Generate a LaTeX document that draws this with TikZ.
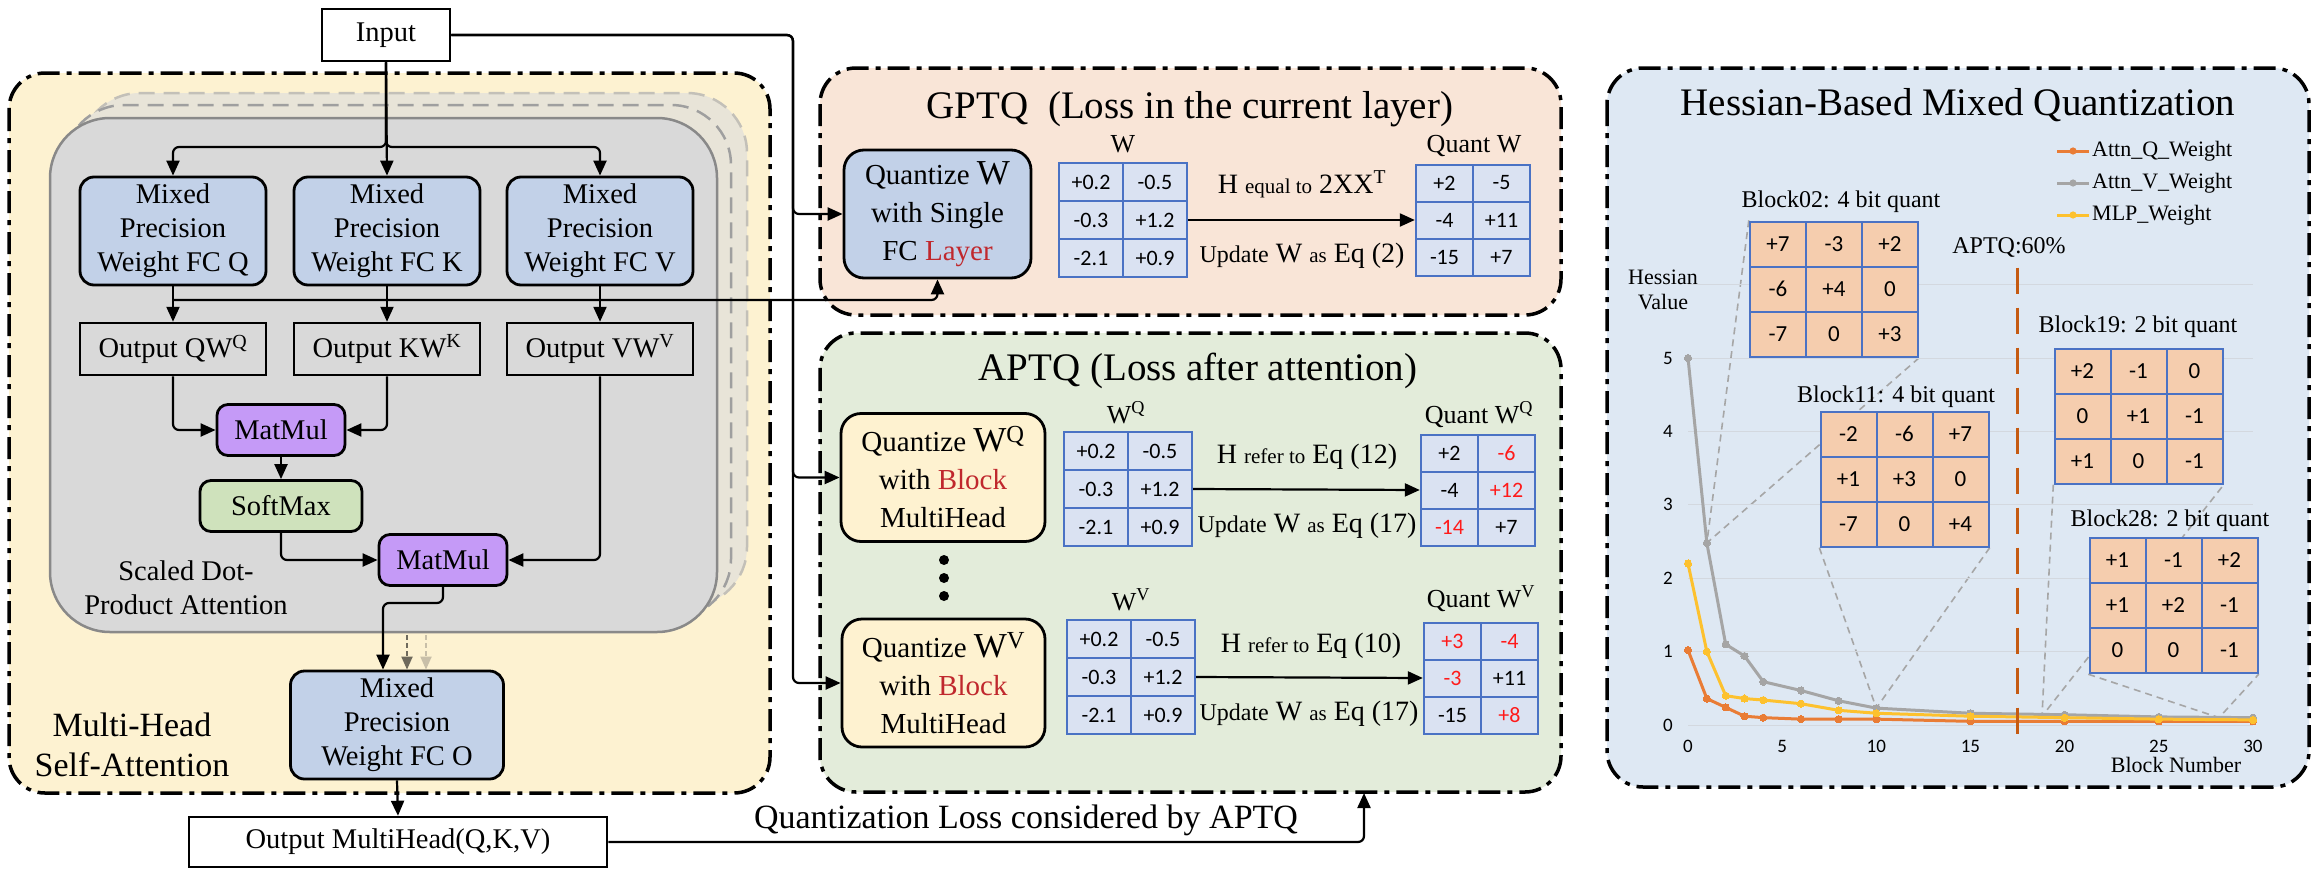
\documentclass[tikz,border=0pt]{standalone}
\usepackage{fontspec}
\setmainfont{Liberation Serif}
\newfontfamily\numfont{Carlito}
\usepackage{tikz}
\usetikzlibrary{arrows.meta,calc,matrix,positioning}
\definecolor{panelyellow}{HTML}{FDF2D1}
\definecolor{panelpeach}{HTML}{F9E5D7}
\definecolor{panelgreen}{HTML}{E3ECDA}
\definecolor{panelblue}{HTML}{DEE8F3}
\definecolor{headgray}{HTML}{D9D9D9}
\definecolor{headedge}{HTML}{898989}
\definecolor{stackfill}{HTML}{E8E4D8}
\definecolor{stackmid}{HTML}{9F9F9F}
\definecolor{stackback}{HTML}{C3C0B8}
\definecolor{fcblue}{HTML}{C2D1E8}
\definecolor{boxyellow}{HTML}{FEF2D0}
\definecolor{mmpurple}{HTML}{C59AF7}
\definecolor{smgreen}{HTML}{CFE2BC}
\definecolor{cellblue}{HTML}{4A72C4}
\definecolor{cellfill}{HTML}{DAE2F2}
\definecolor{cellpeach}{HTML}{F5CDAE}
\definecolor{darkred}{HTML}{C0282D}
\definecolor{numred}{HTML}{FF1A1A}
\definecolor{qorange}{HTML}{E97C35}
\definecolor{vgray}{HTML}{A5A5A5}
\definecolor{mlpyellow}{HTML}{FDC12E}
\definecolor{aptqcut}{HTML}{C55A11}
\definecolor{zoomgray}{HTML}{A6A6A6}
\definecolor{gridgray}{HTML}{D3D8DF}
\definecolor{ghostdark}{HTML}{6F6A5C}
\definecolor{ghostlight}{HTML}{C8BFA8}
\newcommand{\boxtext}{\fontsize{28.5}{34}\selectfont}
\newcommand{\qtext}{\fontsize{29}{38}\selectfont}
\newcommand{\bigw}{\fontsize{35}{38}\selectfont}
\newcommand{\titletext}{\fontsize{39}{44}\selectfont}
\newcommand{\headtext}{\fontsize{34}{40}\selectfont}
\newcommand{\labeltext}{\fontsize{26}{28}\selectfont}
\newcommand{\eqbig}{\fontsize{28}{30}\selectfont}
\newcommand{\eqmid}{\fontsize{24}{26}\selectfont}
\newcommand{\eqsmall}{\fontsize{21}{24}\selectfont}
\newcommand{\celltext}{\numfont\fontsize{22}{24}\selectfont}
\newcommand{\blockcelltext}{\numfont\fontsize{23}{26}\selectfont}
\newcommand{\charttext}{\fontsize{22}{25}\selectfont}
\newcommand{\blocktext}{\fontsize{24}{26}\selectfont}
\newcommand{\ticktext}{\numfont\fontsize{19}{22}\selectfont}
\pgfdeclarelayer{panels}
\pgfdeclarelayer{zoomlines}
\pgfsetlayers{panels,zoomlines,main}
\tikzset{
  panel/.style={draw=black, line width=3.5pt,
    dash pattern=on 22pt off 7pt on 5pt off 7pt, rounded corners=36pt},
  headlayer/.style={line width=2.5pt, rounded corners=60pt, fill=stackfill,
    dash pattern=on 16pt off 9pt},
  plainbox/.style={draw, line width=2.5pt, minimum height=52pt, inner sep=2pt, font=\boxtext},
  fcbox/.style={draw, line width=2.8pt, rounded corners=14pt, fill=fcblue,
    minimum width=186pt, minimum height=108pt, align=center, inner sep=2pt, font=\boxtext},
  opbox/.style={draw, line width=2.8pt, rounded corners=11pt, minimum width=128pt,
    minimum height=51pt, inner sep=2pt, font=\boxtext},
  qbox/.style={draw, line width=2.8pt, rounded corners=20pt, minimum height=128pt,
    align=center, inner sep=2pt, font=\qtext},
  conn/.style={line width=2.2pt, rounded corners=6pt},
  arr/.style={conn, -{Triangle[length=15pt,width=13pt]}},
  ghostarr/.style={line width=2pt, draw=#1, dash pattern=on 5pt off 3pt,
    -{Triangle[length=13pt,width=11pt]}},
  lbl/.style={font=\labeltext, inner sep=0pt},
  weight matrix/.style={
    matrix of nodes, inner sep=0pt,
    column sep=-2pt, row sep=-2pt,
    nodes={draw=cellblue, line width=2pt,
      fill=cellfill,
      minimum height=38pt,
      anchor=center,
      text width=#1,
      align=center,
      inner sep=0pt,
      font=\celltext
    },
  },
  weight matrix/.default=64pt,
  block matrix/.style={
    matrix of nodes, inner sep=0pt,
    column sep=-2pt, row sep=-2pt,
    nodes={draw=cellblue, line width=2pt,
      fill=cellpeach,
      minimum height=45pt,
      anchor=center,
      text width=56pt,
      align=center,
      inner sep=0pt,
      font=\blockcelltext
    },
  },
  gridline/.style={draw=gridgray, line width=1pt},
  ticklbl/.style={font=\ticktext, inner sep=1pt},
  hcurve/.style={draw=#1, line width=3pt, mark=*, mark size=3.6pt,
    mark options={draw=#1, fill=#1, line width=0pt}},
  cutline/.style={draw=aptqcut, line width=3pt, dash pattern=on 26pt off 14pt},
  zoomline/.style={draw=zoomgray, line width=1.6pt, dash pattern=on 7pt off 5pt}
}
\begin{document}
\begin{tikzpicture}[x=1pt,y=-1pt]
\useasboundingbox (0,0) rectangle (2320,878);

\begin{pgfonlayer}{panels}
  \fill[white] (0,0) rectangle (2320,878);
  \draw[panel, fill=panelyellow] (9,73) rectangle (770,793);
  \draw[panel, fill=panelpeach] (820,68) rectangle (1561,315);
  \draw[panel, fill=panelgreen] (820,333) rectangle (1561,792);
  \draw[panel, fill=panelblue] (1607,68) rectangle (2309,787);
  \draw[headlayer, draw=stackback] (80,93) rectangle (747,607);
  \draw[headlayer, draw=stackmid] (64,105) rectangle (731,619);
  \draw[headlayer, solid, draw=headedge, fill=headgray] (50,118) rectangle (717,632);
\end{pgfonlayer}

% multi-head self-attention
\node[plainbox, minimum width=128pt] (inp) at (386,35) {Input};
\node[fcbox] (fcq) at (173,231) {Mixed\\Precision\\Weight FC Q};
\node[fcbox] (fck) at (387,231) {Mixed\\Precision\\Weight FC K};
\node[fcbox] (fcv) at (600,231) {Mixed\\Precision\\Weight FC V};
\node[plainbox, minimum width=186pt] (outq) at (173,349) {Output QW\textsuperscript{Q}};
\node[plainbox, minimum width=186pt] (outk) at (387,349) {Output KW\textsuperscript{K}};
\node[plainbox, minimum width=186pt] (outv) at (600,349) {Output VW\textsuperscript{V}};
\node[opbox, fill=mmpurple] (mm1) at (281,430) {MatMul};
\node[opbox, fill=smgreen, minimum width=162pt] (sm) at (281,506) {SoftMax};
\node[opbox, fill=mmpurple] (mm2) at (443,560) {MatMul};
\node[align=center, font=\boxtext] (sdpa) at (186,588) {Scaled Dot-\\Product Attention};
\node[fcbox, minimum width=213pt] (fco) at (397,725) {Mixed\\Precision\\Weight FC O};
\node[align=center, font=\headtext] (mhsa) at (132,745) {Multi-Head\\Self-Attention};
\node[plainbox, minimum width=418pt, minimum height=50pt] (outmh) at (398,842) {Output MultiHead(Q,K,V)};

\coordinate (split) at (386,147);
\draw[arr] (inp.south) -- (split) -| (fcq.north);
\draw[arr] (inp.south) -- (fck.north);
\draw[arr] (inp.south) -- (split) -| (fcv.north);
\foreach \h in {q,k,v}
  \draw[arr] (fc\h.south) -- (out\h.north);
\draw[arr] (outq.south) |- (mm1.west);
\draw[arr] (outk.south) |- (mm1.east);
\draw[arr] (mm1.south) -- (sm.north);
\draw[arr] (sm.south) |- (mm2.west);
\draw[arr] (outv.south) |- (mm2.east);
\coordinate (mmturn) at (383,603);
\draw[arr] (mm2.south) |- (mmturn) -- (mmturn |- fco.north);
\coordinate (ghost1) at (407,635);
\coordinate (ghost2) at (426,635);
\draw[ghostarr=ghostdark] (ghost1) -- (ghost1 |- fco.north);
\draw[ghostarr=ghostlight] (ghost2) -- (ghost2 |- fco.north);
\draw[arr] (fco.south) -- (outmh.north);

% GPTQ
\node[anchor=base, font=\titletext] (gtitle) at (1190,118) {GPTQ\ \ (Loss in the current layer)};
\node[qbox, fill=fcblue, minimum width=187pt] (gq) at (937.5,214)
  {Quantize {\bigw W}\\with Single\\FC \textcolor{darkred}{Layer}};
\matrix[weight matrix] (gw) at (1123,220) {
  +0.2 & -0.5 \\
  -0.3 & +1.2 \\
  -2.1 & +0.9 \\
};
\matrix[weight matrix=57pt, nodes={minimum height=37pt}] (gqw) at (1473,220) {
  +2 & -5 \\
  -4 & +11 \\
  -15 & +7 \\
};
\node[lbl, anchor=base] (gwl) at (1123,152) {W};
\node[lbl, anchor=base] (gqwl) at (1474,152) {Quant W};
\draw[arr] (gw.east) -- (gqw.west);
\node[anchor=base, font=\eqbig] (gh) at (1302,193) {H {\eqsmall equal to} 2XX\textsuperscript{T}};
\node[anchor=base, font=\eqbig] (gu) at (1302,262) {{\eqmid Update} W {\eqsmall as} Eq (2)};

% APTQ
\node[anchor=base, font=\titletext] (atitle) at (1198,380) {APTQ (Loss after attention)};
\node[qbox, fill=boxyellow, minimum width=204pt] (aq) at (943,477.5)
  {Quantize {\bigw W\textsuperscript{Q}}\\with \textcolor{darkred}{Block}\\MultiHead};
\matrix[weight matrix] (aw) at (1128,489) {
  +0.2 & -0.5 \\
  -0.3 & +1.2 \\
  -2.1 & +0.9 \\
};
\matrix[weight matrix=57pt, nodes={minimum height=37pt}] (aqw) at (1478,490) {
  +2 &|[text=numred]| -6 \\
  -4 &|[text=numred]| +12 \\
  |[text=numred]| -14 & +7 \\
};
\node[lbl, anchor=base] (awl) at (1126,423) {W\textsuperscript{Q}};
\node[lbl, anchor=base] (aqwl) at (1479,423) {Quant W\textsuperscript{Q}};
\draw[arr] (aw.east) -- (aqw.west);
\node[anchor=base, font=\eqbig] (ah) at (1307,463) {H {\eqsmall refer to} Eq (12)};
\node[anchor=base, font=\eqbig] (au) at (1307,532) {{\eqmid Update} W {\eqsmall as} Eq (17)};
\foreach \d in {560,578,596}
  \fill (944,\d) circle (5pt);
\node[qbox, fill=boxyellow, minimum width=203pt] (av) at (943.5,683)
  {Quantize {\bigw W\textsuperscript{V}}\\with \textcolor{darkred}{Block}\\MultiHead};
\matrix[weight matrix] (vw) at (1131,677) {
  +0.2 & -0.5 \\
  -0.3 & +1.2 \\
  -2.1 & +0.9 \\
};
\matrix[weight matrix=57pt, nodes={minimum height=37pt}] (vqw) at (1481,678) {
  |[text=numred]| +3 &|[text=numred]| -4 \\
  |[text=numred]| -3 & +11 \\
  -15 &|[text=numred]| +8 \\
};
\node[lbl, anchor=base] (vwl) at (1131,610) {W\textsuperscript{V}};
\node[lbl, anchor=base] (vqwl) at (1481,607) {Quant W\textsuperscript{V}};
\draw[arr] (vw.east) -- (vqw.west);
\node[anchor=base, font=\eqbig] (vh) at (1311,652) {H {\eqsmall refer to} Eq (10)};
\node[anchor=base, font=\eqbig] (vu) at (1309,720) {{\eqmid Update} W {\eqsmall as} Eq (17)};

\coordinate (bus) at (793,35);
\foreach \q in {gq,aq,av}
  \draw[arr] (inp.east) -- (bus) |- (\q.west);
\coordinate (tap) at (173,300);
\draw[arr] (tap) -| (gq.south);
\coordinate (lossin) at (1364,793);
\draw[arr] (outmh.east) -| (lossin);
\node[anchor=base, font=\headtext] (losstxt) at (1026,828) {Quantization Loss considered by APTQ};

% hessian chart
\node[anchor=base, font=\titletext] (htitle) at (1958,115) {Hessian-Based Mixed Quantization};
\foreach \c/\t/\yy [count=\i] in {qorange/Attn\_Q\_Weight/151, vgray/Attn\_V\_Weight/183, mlpyellow/MLP\_Weight/215} {
  \draw[draw=\c, line width=3pt] (2057,\yy) -- (2089,\yy);
  \fill[\c] (2073,\yy) circle (3.6pt);
  \node[anchor=west, font=\charttext, inner sep=0pt] (lg\i) at (2092,\yy) {\t};
}
\begin{scope}[shift={(1688,725)}, x=18.83pt, y=73.4pt]
  \foreach \v in {0,...,6}
    \draw[gridline] (0,\v) -- (30,\v);
  \foreach \v in {0,...,5}
    \node[ticklbl, anchor=east] (yt\v) at (-0.75,\v) {\v};
  \foreach \b in {0,5,...,30}
    \node[ticklbl, anchor=base] (xt\b) at (\b,-0.37) {\b};
  \draw[hcurve=qorange] plot coordinates {(0,1.02) (1,0.36) (2,0.24) (3,0.12) (4,0.10) (6,0.08)
    (8,0.08) (10,0.08) (15,0.05) (20,0.05) (25,0.05) (30,0.05)};
  \draw[hcurve=vgray] plot coordinates {(0,5.0) (1,2.48) (2,1.10) (3,0.94) (4,0.59) (6,0.47)
    (8,0.33) (10,0.23) (15,0.16) (20,0.14) (25,0.11) (30,0.10)};
  \draw[hcurve=mlpyellow] plot coordinates {(0,2.2) (1,1.0) (2,0.40) (3,0.36) (4,0.34) (6,0.29)
    (8,0.20) (10,0.16) (15,0.12) (20,0.10) (25,0.08) (30,0.07)};
  \draw[cutline] (17.5,6.23) -- (17.5,-0.18);
  \coordinate (p02) at (1,2.48);
  \coordinate (p11) at (10,0.23);
  \coordinate (p19) at (18.8,0.12);
  \coordinate (p28) at (28.2,0.10);
\end{scope}
\node[align=center, font=\charttext] (hval) at (1663,290) {Hessian\\Value};
\node[anchor=base, font=\charttext] (bnum) at (2176,772) {Block Number};
\node[anchor=base, font=\blocktext] (cut) at (2009,253) {APTQ:60\%};

\node[anchor=base, font=\blocktext] (b02l) at (1841,207) {Block02: 4 bit quant};
\matrix[block matrix] (b02) at (1834,289) {
  +7 & -3 & +2 \\
  -6 & +4 & 0 \\
  -7 & 0 & +3 \\
};
\node[anchor=base, font=\blocktext] (b11l) at (1896,402) {Block11: 4 bit quant};
\matrix[block matrix] (b11) at (1904.5,479) {
  -2 & -6 & +7 \\
  +1 & +3 & 0 \\
  -7 & 0 & +4 \\
};
\node[anchor=base, font=\blocktext] (b19l) at (2138,332) {Block19: 2 bit quant};
\matrix[block matrix] (b19) at (2138.5,416) {
  +2 & -1 & 0 \\
  0 & +1 & -1 \\
  +1 & 0 & -1 \\
};
\node[anchor=base, font=\blocktext] (b28l) at (2170,526) {Block28: 2 bit quant};
\matrix[block matrix] (b28) at (2173.5,605.5) {
  +1 & -1 & +2 \\
  +1 & +2 & -1 \\
  0 & 0 & -1 \\
};
\begin{pgfonlayer}{zoomlines}
  \draw[zoomline] (b02.north west) -- (p02) -- (b02.south east);
  \draw[zoomline] (b11.south west) -- (p11) -- (b11.south east);
  \draw[zoomline] (b19.south west) -- (p19) -- (b19.south east);
  \draw[zoomline] (b28.south west) -- (p28) -- (b28.south east);
\end{pgfonlayer}
\end{tikzpicture}
\end{document}
